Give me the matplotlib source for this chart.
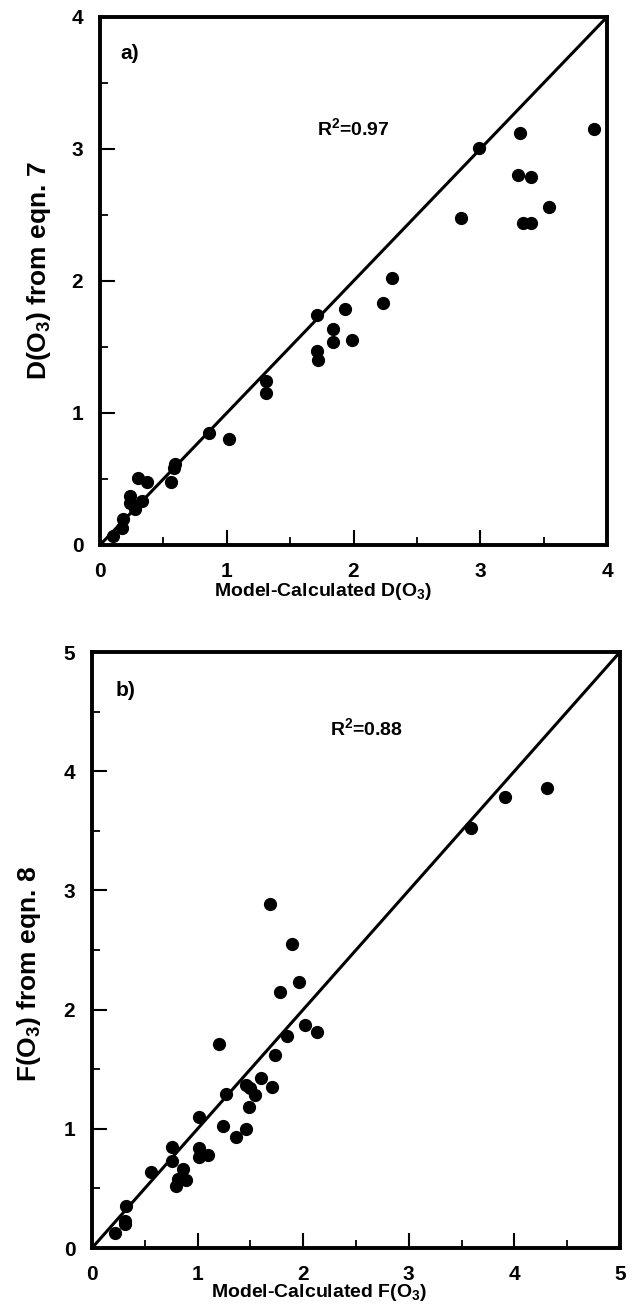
import matplotlib
matplotlib.use("Agg")
import matplotlib.pyplot as plt
from matplotlib.ticker import MultipleLocator

plt.rcParams['font.family'] = ['Liberation Sans', 'DejaVu Sans']
plt.rcParams['font.weight'] = 'bold'
plt.rcParams['mathtext.fontset'] = 'custom'
plt.rcParams['mathtext.rm'] = 'Liberation Sans:bold'
plt.rcParams['mathtext.bf'] = 'Liberation Sans:bold'
plt.rcParams['mathtext.default'] = 'bf'

# Panel a: D(O3)
a_model = [0.10, 0.17, 0.18, 0.24, 0.24, 0.28, 0.33, 0.30, 0.37, 0.56, 0.59, 0.58,
           0.86, 1.02, 1.31, 1.31, 1.71, 1.84, 1.93, 1.71, 1.72, 1.84, 1.99, 2.23,
           2.30, 2.99, 3.31, 3.90, 3.30, 3.40, 2.85, 3.54, 3.34, 3.40]
a_eqn = [0.07, 0.13, 0.20, 0.37, 0.32, 0.27, 0.33, 0.51, 0.48, 0.48, 0.61, 0.58,
         0.85, 0.80, 1.24, 1.15, 1.74, 1.64, 1.79, 1.47, 1.40, 1.54, 1.55, 1.83,
         2.02, 3.01, 3.12, 3.15, 2.80, 2.79, 2.48, 2.56, 2.44, 2.44]

# Panel b: F(O3)
b_model = [0.22, 0.31, 0.31, 0.32, 0.56, 0.76, 0.76, 0.80, 0.81, 0.86, 0.89, 1.01,
           1.01, 1.01, 1.10, 1.20, 1.24, 1.27, 1.36, 1.46, 1.46, 1.49, 1.50, 1.54,
           1.60, 1.70, 1.73, 1.69, 1.78, 1.85, 1.89, 1.96, 2.02, 2.13, 3.59, 3.91, 4.31]
b_eqn = [0.13, 0.20, 0.23, 0.35, 0.64, 0.85, 0.73, 0.52, 0.58, 0.66, 0.57, 1.10,
         0.84, 0.76, 0.78, 1.71, 1.02, 1.29, 0.93, 1.00, 1.37, 1.18, 1.34, 1.28,
         1.43, 1.35, 1.62, 2.89, 2.15, 1.78, 2.55, 2.23, 1.87, 1.81, 3.52, 3.78, 3.86]

panels = [
    dict(x=a_model, y=a_eqn, lim=4, label='a)', r2='R$^{2}$=0.97',
         xlabel='Model-Calculated D(O$_{3}$)', ylabel='D(O$_{3}$) from eqn. 7',
         rect=[100/643, (1304-545)/1304, 507/643, 528/1304],
         lab_pos=(0.04, 0.93), r2_pos=(0.50, 0.79),
         xl=(0.44, -0.068), yl=(-0.093, 0.52)),
    dict(x=b_model, y=b_eqn, lim=5, label='b)', r2='R$^{2}$=0.88',
         xlabel='Model-Calculated F(O$_{3}$)', ylabel='F(O$_{3}$) from eqn. 8',
         rect=[92/643, (1304-1248)/1304, 528/643, 596/1304],
         lab_pos=(0.045, 0.935), r2_pos=(0.52, 0.873),
         xl=(0.43, -0.057), yl=(-0.093, 0.46)),
]

fig = plt.figure(figsize=(6.43, 13.04), dpi=100)
for p in panels:
    ax = fig.add_axes(p['rect'])
    lim = p['lim']
    ax.plot([0, lim], [0, lim], color='black', lw=2.2, zorder=2)
    ax.plot(p['x'], p['y'], 'o', color='black', ms=8.5, zorder=3)
    ax.set_xlim(0, lim)
    ax.set_ylim(0, lim)
    ax.xaxis.set_major_locator(MultipleLocator(1))
    ax.yaxis.set_major_locator(MultipleLocator(1))
    ax.xaxis.set_minor_locator(MultipleLocator(0.5))
    ax.yaxis.set_minor_locator(MultipleLocator(0.5))
    ax.tick_params(which='major', direction='in', length=11, width=1.5,
                   labelsize=15, pad=12, top=False, right=False)
    ax.tick_params(which='minor', direction='in', length=6, width=1.3,
                   top=False, right=False)
    for lbl in ax.get_xticklabels() + ax.get_yticklabels():
        lbl.set_fontweight('bold')
    for s in ax.spines.values():
        s.set_linewidth(2.8)
    ax.set_xlabel(p['xlabel'], fontsize=14, fontweight='bold')
    ax.xaxis.set_label_coords(*p['xl'])
    ax.set_ylabel(p['ylabel'], fontsize=19, fontweight='bold')
    ax.yaxis.set_label_coords(*p['yl'])
    ax.text(*p['lab_pos'], p['label'], transform=ax.transAxes, fontsize=15,
            fontweight='bold', ha='left', va='center')
    ax.text(*p['r2_pos'], p['r2'], transform=ax.transAxes, fontsize=14,
            fontweight='bold', ha='center', va='center')

fig.savefig('out.png', dpi=100)
